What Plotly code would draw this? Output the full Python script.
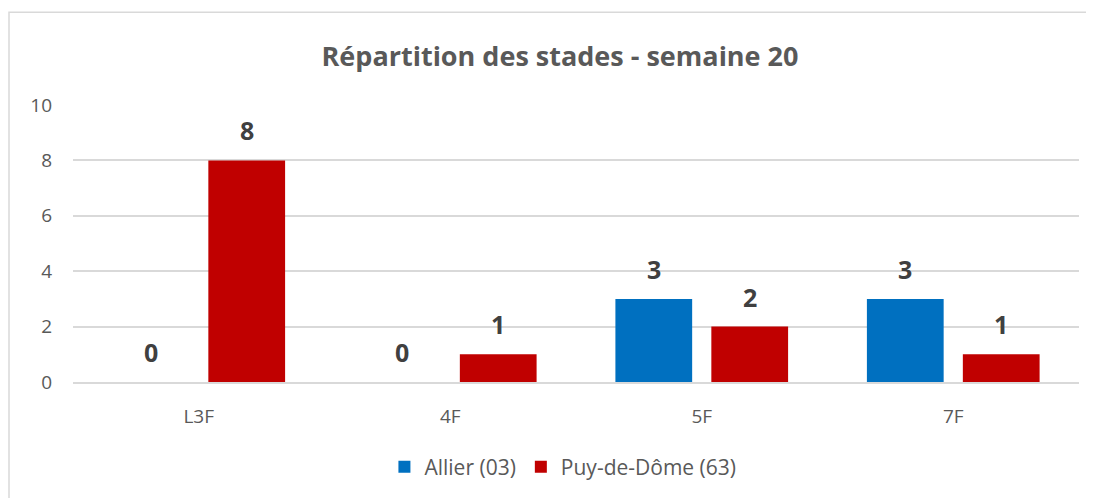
import plotly.graph_objects as go

categories = ["L3F", "4F", "5F", "7F"]
allier = [0, 0, 3, 3]
puy = [8, 1, 2, 1]
series_names = ["Allier (03)", "Puy-de-Dôme (63)"]
series_colors = ["#0070C0", "#C00000"]
title_text = "Répartition des stades - semaine 20"
y_ticks = [0, 2, 4, 6, 8, 10]

FONT = "Open Sans"
W, H = 1086, 490          # page has an 8px body margin
L, R, T, B = 65, 15, 97, 115
PW, PH = W - L - R, H - T - B

fig = go.Figure()
for name, vals, col in zip(series_names, [allier, puy], series_colors):
    fig.add_trace(go.Bar(
        x=categories, y=vals, name=name,
        marker=dict(color=col, line=dict(width=0)),
    ))

# data labels, positioned through the data axes
for offs, vals in zip([-48, 48], [allier, puy]):
    for c, v in zip(categories, vals):
        fig.add_annotation(x=c, y=v, xref="x", yref="y", text=str(v),
                           showarrow=False, xshift=offs, yanchor="bottom",
                           yshift=11,
                           font=dict(family=FONT, size=25, color="#404040",
                                     weight="bold"))

fig.update_layout(
    width=W, height=H,
    margin=dict(l=L, r=R, t=T, b=B),
    paper_bgcolor="white", plot_bgcolor="white",
    barmode="group", bargap=0.237, bargroupgap=0.2,
    font=dict(family=FONT, color="#595959", size=19),
    title=dict(text=title_text, x=552/W, xanchor="center",
               y=1-49/H, yanchor="middle",
               font=dict(family=FONT, size=27, color="#595959", weight="bold")),
    showlegend=True,
    legend=dict(orientation="h", x=0.487, xanchor="center",
                y=(375-459)/PH, yanchor="middle",
                bgcolor="rgba(0,0,0,0)",
                font=dict(family=FONT, size=21, color="#595959"),
                traceorder="normal"),
)
fig.update_xaxes(showgrid=False, showline=True, linecolor="#D9D9D9", linewidth=1.5,
                 ticks="", ticklabelstandoff=16,
                 tickfont=dict(family=FONT, size=19, color="#595959"))
fig.update_yaxes(range=[0, 10], tickvals=y_ticks, showgrid=True,
                 gridcolor="#D9D9D9", gridwidth=1.5, zeroline=False,
                 showline=False, ticks="", ticklabelstandoff=20,
                 tickfont=dict(family=FONT, size=19, color="#595959"))

# chart-area border (left and top edges visible)
x0 = (1 - L) / PW
x1 = (W - L + 10) / PW
y0 = -(B + 10) / PH
y1 = (PH + T - 4) / PH
fig.add_shape(type="path", xref="paper", yref="paper",
              path=f"M {x0} {y0} L {x0} {y1} L {x1} {y1}",
              line=dict(color="#D9D9D9", width=1.5), layer="below")

fig.write_html("out.html")
